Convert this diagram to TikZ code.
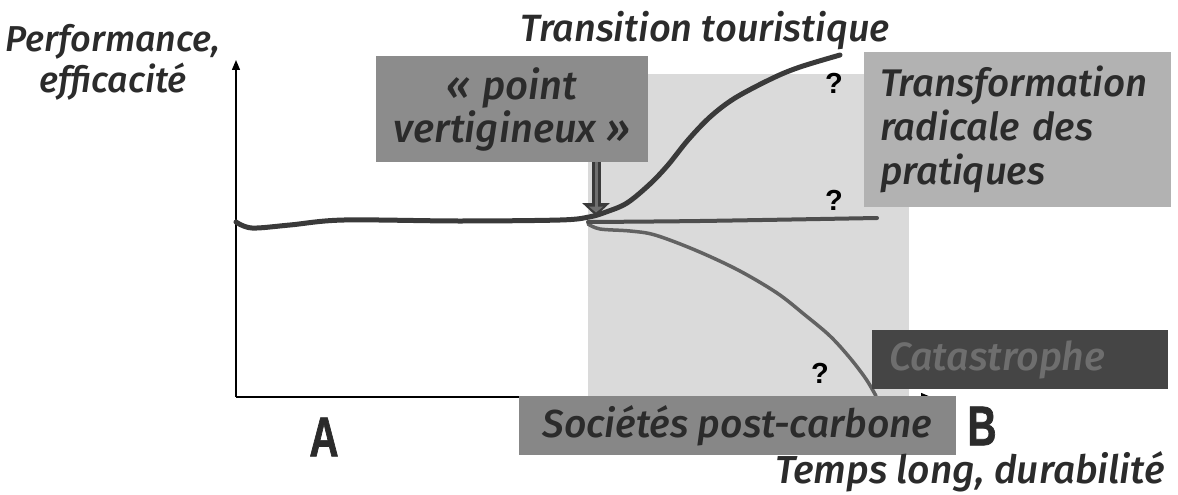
\documentclass[tikz,border=0pt]{standalone}
\usepackage{fontspec}
\setmainfont{Fira Sans Medium}[ItalicFont=Fira Sans Medium Italic]
\newfontfamily\qfont{Liberation Sans}
\newfontfamily\condfont{Liberation Sans}[FakeStretch=0.72, FakeBold=1.2]
\usetikzlibrary{arrows.meta}
\definecolor{zone}{HTML}{DADADA}
\definecolor{ink}{HTML}{2B2B2B}
\definecolor{vertfill}{HTML}{8C8C8C}
\definecolor{transfill}{HTML}{B2B2B2}
\definecolor{catafill}{HTML}{454545}
\definecolor{catatext}{HTML}{6E6E6E}
\definecolor{socfill}{HTML}{878787}
\definecolor{curvemain}{HTML}{3A3A3A}
\definecolor{curveflat}{HTML}{4E4E4E}
\definecolor{curvelow}{HTML}{626262}
\begin{document}
\begin{tikzpicture}[x=1pt,y=-1pt,
  lab/.style={text=ink, inner sep=0pt},
  boxnode/.style={text=ink, inner ysep=0pt},
  qmark/.style={font=\qfont\bfseries\fontsize{29}{30}\selectfont, text=black, inner sep=0pt},
  letter/.style={font=\condfont\bfseries\fontsize{56}{60}\selectfont, text=ink, inner sep=0pt},
  axis/.style={line width=1.3pt, black, -{Triangle[length=10pt,width=8pt]}},
  maincurve/.style={line width=5pt, curvemain, line cap=round, line join=round},
  flatcurve/.style={line width=4pt, curveflat, line cap=round},
  lowcurve/.style={line width=3.5pt, curvelow, line cap=round, line join=round},
  arrowout/.style={line width=9pt, draw=curvemain, -{Triangle[length=13pt,width=27pt]}},
  arrowin/.style={line width=3pt, draw=vertfill!80!black, shorten >=3.5pt, -{Triangle[length=6pt,width=14pt]}}
]
\useasboundingbox (0,0) rectangle (1178,495);
% light zone
\fill[zone] (588,74) rectangle (909,397);
% axes
\coordinate (O) at (236,397);
\coordinate (ytop) at (236,60);
\coordinate (xend) at (931,397);
\draw[axis] (O) -- (ytop);
\draw[axis] (O) -- (xend);
% curves
\draw[lowcurve] plot[smooth, tension=0.55] coordinates {(588,224) (600,229) (630,231) (655,235) (695,250) (738,270) (777,293) (805,315) (830,336) (850,358) (866,379) (876,396)};
\draw[flatcurve] plot[smooth, tension=0.5] coordinates {(588,222) (700,221) (877,218)};
\draw[maincurve] plot[smooth, tension=0.55] coordinates {(236,222) (252,228) (290,225) (344,220) (459,221) (560,220) (589,217) (606,212) (627,203) (650,184) (668,165) (688,140) (710,117) (735,98) (773,78) (800,67) (840,55)};
% boxes
\node[boxnode, fill=vertfill, minimum width=272pt, minimum height=106pt, align=center,
  font=\itshape\fontsize{40}{43}\selectfont] (vert) at (512,109) {«\hspace{0.3em}point\\vertigineux »};
\node[boxnode, fill=transfill, minimum width=307pt, minimum height=155pt, inner xsep=16pt, text width=275pt, align=left,
  font=\itshape\fontsize{38.5}{44}\selectfont] (trans) at (1017.5,129.5) {Transformation\\radicale des\\pratiques};
\node[boxnode, fill=catafill, text=catatext, minimum width=296pt, minimum height=59pt, inner xsep=17pt, text width=262pt, align=left,
  font=\itshape\fontsize{39.5}{43}\selectfont] (cata) at (1020,359.5) {Catastrophe};
\node[boxnode, fill=socfill, minimum width=437pt, minimum height=59pt,
  font=\itshape\fontsize{39}{43}\selectfont] (soc) at (737.5,425.5) {Sociétés post-carbone};
% arrow from the box to the tipping point
\coordinate (vp) at (596,216);
\draw[arrowout] (vert.south -| vp) -- (vp);
\draw[arrowin] (vert.south -| vp) -- (vp);
% labels
\node[lab, align=center, font=\itshape\fontsize{36}{41}\selectfont] (perf) at (113,62) {Performance,\\efficacité};
\node[lab, anchor=base, font=\itshape\fontsize{38}{40}\selectfont] (title) at (705,42) {Transition touristique};
\node[lab, anchor=base east, font=\itshape\fontsize{39}{43}\selectfont] (temps) at (1165,483) {Temps long, durabilité};
\node[letter] (A) at (324,437) {A};
\node[letter] (B) at (982,426) {B};
\node[qmark] (q1) at (834,83) {?};
\node[qmark] (q2) at (834,200) {?};
\node[qmark] (q3) at (820,373) {?};
\end{tikzpicture}
\end{document}
